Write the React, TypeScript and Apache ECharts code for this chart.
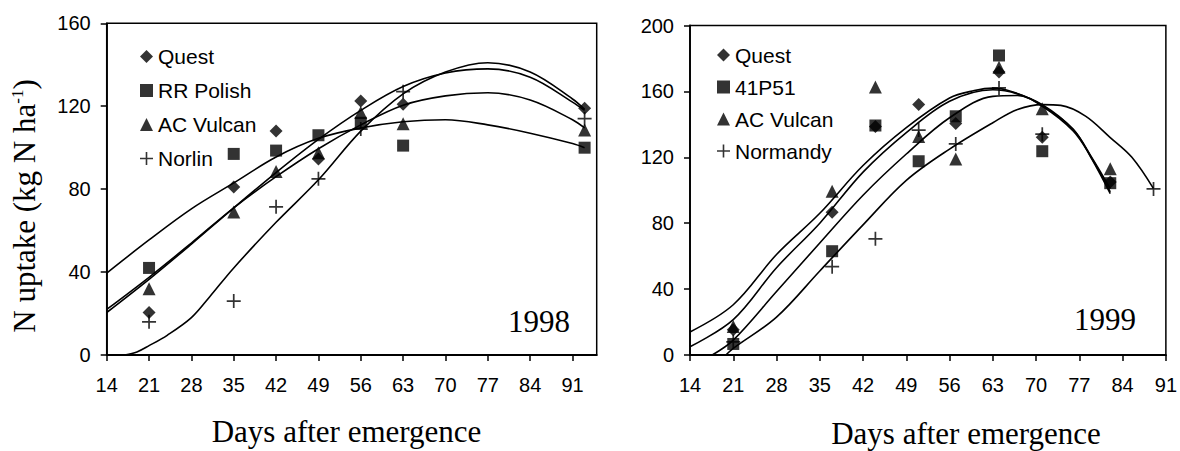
import React, { useEffect, useRef } from "react";
import * as echarts from "echarts";

// ---------- tick labels ----------
const xTicks = [14, 21, 28, 35, 42, 49, 56, 63, 70, 77, 84, 91];

// ---------- 1998 observations ----------
const days1998 = [21, 35, 42, 49, 56, 63, 93];
const quest1998 = [20.5, 81, 108, 94.5, 122.5, 121, 119];
const polish1998 = [42, 97, 98.6, 106, 112, 101, 100];
const vulcan1998 = [32, 69, 88.5, 97.5, 117, 111.5, 108.5];
const norlin1998 = [16, 26, 71.5, 85, 109, 127, 114];

// ---------- 1998 fitted curves [day, value] ----------
const fitQuest1998: [number, number][] = [[14, 20.5], [21, 36.5], [28, 53.5], [35, 71], [42, 88], [49, 104], [56, 118], [63, 129.5], [70, 136], [77, 138], [84, 134], [91, 122], [93, 118]];
const fitPolish1998: [number, number][] = [[14, 39.5], [21, 55.5], [28, 70.5], [35, 83], [42, 95.5], [49, 104.5], [56, 109.5], [63, 112.5], [70, 113.5], [77, 111], [84, 107], [91, 102], [93, 100]];
const fitVulcan1998: [number, number][] = [[14, 22], [21, 37.5], [28, 54], [35, 71], [42, 86], [49, 99.5], [56, 111], [63, 120.5], [70, 125], [77, 126.5], [84, 123], [91, 113.5], [93, 109.5]];
const fitNorlin1998: [number, number][] = [[17, 0], [19, 1.5], [21, 4.5], [24, 9.5], [28, 18], [31, 28], [35, 42], [42, 64], [49, 84.5], [56, 108], [63, 126], [70, 136.5], [77, 141], [84, 136.5], [91, 123.5], [93, 118.5]];

// ---------- 1999 observations ----------
const days1999 = [21, 37, 44, 51, 57, 64, 71, 82];
const quest1999 = [15.3, 86.6, 138.7, 152, 140.5, 171.7, 132.2, 105];
const p41P51_1999 = [6.7, 63, 139.3, 117.6, 144.9, 181.8, 123.7, 104.3];
const vulcan1999 = [17.3, 99.4, 162.6, 132.6, 119, 174.7, 149.4, 113];
const normandyDays1999 = [21, 37, 44, 51, 57, 64, 71, 89];
const normandy1999 = [8, 53.6, 70.5, 136.5, 128.1, 162.1, 134, 100.8];

// ---------- 1999 fitted curves [day, value] ----------
const fitVulcan1999: [number, number][] = [[14, 14], [21, 30.5], [28, 61], [35, 86], [42, 115], [49, 138], [56, 156], [60, 160.5], [63, 162], [66, 160], [71, 152], [76, 137], [79, 120], [82, 101]];
const fitQuest1999: [number, number][] = [[14, 5], [21, 21.5], [28, 53], [35, 80], [42, 111], [49, 135], [56, 154], [63, 161], [67, 158.5], [71, 151.5], [76, 137], [79, 119], [82, 98]];
const fit41P51_1999: [number, number][] = [[17.6, 0], [21, 9], [28, 38.5], [35, 68], [42, 97], [49, 122], [56, 144], [63, 157], [67, 157.5], [71, 151], [76, 136], [79, 119.5], [82, 99]];
const fitNormandy1999: [number, number][] = [[19.8, 0], [21, 4], [28, 23], [35, 51], [42, 79], [49, 106], [56, 125], [63, 141], [67, 149], [71, 152], [74, 151.5], [78, 145], [82, 132], [85.5, 120], [89, 101]];

const PLUS = "path://M5.7,0H7.3V5.7H13V7.3H7.3V13H5.7V7.3H0V5.7H5.7Z";
const SANS = "Liberation Sans, Arial, sans-serif";
const SERIF = "Liberation Serif, Times New Roman, serif";

const zip = (xs: number[], ys: number[]) => xs.map((x, i) => [x, ys[i]]);

function fitLine(name: string, data: [number, number][], idx: number) {
  return {
    type: "line",
    name,
    xAxisIndex: idx,
    yAxisIndex: idx,
    data,
    symbol: "none",
    showSymbol: false,
    smooth: 0.35,
    silent: true,
    lineStyle: { color: "#000", width: 1.6 },
    z: 2,
  };
}

function points(name: string, data: number[][], idx: number, symbol: string, size: number) {
  return {
    type: "scatter",
    name,
    xAxisIndex: idx,
    yAxisIndex: idx,
    data,
    symbol,
    symbolSize: size,
    itemStyle: { color: "#000" },
    z: 3,
  };
}

function xAxis(idx: number, max: number) {
  return {
    type: "value",
    gridIndex: idx,
    min: 14,
    max,
    interval: 7,
    axisLine: { show: true, onZero: false, lineStyle: { color: "#000", width: 1.8 } },
    axisTick: { show: true, inside: false, length: 6, lineStyle: { color: "#000", width: 1.5 }, customValues: xTicks },
    axisLabel: { customValues: xTicks, fontSize: 20, fontFamily: SANS, color: "#000", margin: 20 },
    splitLine: { show: false },
  };
}

function yAxis(idx: number, max: number) {
  return {
    type: "value",
    gridIndex: idx,
    min: 0,
    max,
    interval: 40,
    axisLine: { show: true, onZero: false, lineStyle: { color: "#000", width: 1.8 } },
    axisTick: { show: true, inside: false, length: 6, lineStyle: { color: "#000", width: 1.5 } },
    axisLabel: { fontSize: 20, fontFamily: SANS, color: "#000", margin: 16 },
    splitLine: { show: false },
  };
}

function legend(left: number, top: number, gap: number, names: string[]) {
  const icons = ["diamond", "rect", "triangle", PLUS];
  return {
    orient: "vertical",
    left,
    top,
    itemGap: gap,
    itemWidth: 13,
    itemHeight: 13,
    selectedMode: false,
    data: names.map((n, i) => ({ name: n, icon: icons[i] })),
    textStyle: { fontSize: 21, fontFamily: SANS, color: "#000" },
  };
}

export default function App() {
  const ref = useRef<HTMLDivElement>(null);
  useEffect(() => {
    if (!ref.current) return;
    const chart = echarts.init(ref.current, null, { renderer: "svg" });
    chart.setOption({
      animation: false,
      backgroundColor: "#fff",
      grid: [
        { left: 106.7, top: 23.3, width: 490, height: 331.7, show: true, borderColor: "#000", borderWidth: 1.5 },
        { left: 690, top: 25.5, width: 479, height: 329.5, show: true, borderColor: "#000", borderWidth: 1.5 },
      ],
      xAxis: [xAxis(0, 95), xAxis(1, 91)],
      yAxis: [yAxis(0, 160), yAxis(1, 200)],
      legend: [
        legend(135, 41, 13, ["Quest", "RR Polish", "AC Vulcan", "Norlin"]),
        legend(712, 39.5, 11, ["Quest", "41P51", "AC Vulcan", "Normandy"]),
      ],
      graphic: [
        {
          type: "text",
          x: 24,
          y: 206,
          rotation: Math.PI / 2,
          style: {
            text: "N uptake (kg N ha{sup|-1})",
            fontSize: 31,
            fontFamily: SERIF,
            fill: "#000",
            align: "center",
            verticalAlign: "middle",
            rich: { sup: { fontSize: 17, fontFamily: SERIF, verticalAlign: "top", fill: "#000" } },
          },
        },
        { type: "text", x: 346.5, y: 431, style: { text: "Days after emergence", fontSize: 31, fontFamily: SERIF, fill: "#000", align: "center", verticalAlign: "middle" } },
        { type: "text", x: 966, y: 433, style: { text: "Days after emergence", fontSize: 31, fontFamily: SERIF, fill: "#000", align: "center", verticalAlign: "middle" } },
        { type: "text", x: 539, y: 321, style: { text: "1998", fontSize: 31, fontFamily: SERIF, fill: "#000", align: "center", verticalAlign: "middle" } },
        { type: "text", x: 1105, y: 319, style: { text: "1999", fontSize: 31, fontFamily: SERIF, fill: "#000", align: "center", verticalAlign: "middle" } },
      ],
      series: [
        fitLine("fit Quest 1998", fitQuest1998, 0),
        fitLine("fit RR Polish 1998", fitPolish1998, 0),
        fitLine("fit AC Vulcan 1998", fitVulcan1998, 0),
        fitLine("fit Norlin 1998", fitNorlin1998, 0),
        points("Quest", zip(days1998, quest1998), 0, "diamond", 13),
        points("RR Polish", zip(days1998, polish1998), 0, "rect", 12),
        points("AC Vulcan", zip(days1998, vulcan1998), 0, "triangle", 13),
        points("Norlin", zip(days1998, norlin1998), 0, PLUS, 14),
        fitLine("fit Quest 1999", fitQuest1999, 1),
        fitLine("fit 41P51 1999", fit41P51_1999, 1),
        fitLine("fit AC Vulcan 1999", fitVulcan1999, 1),
        fitLine("fit Normandy 1999", fitNormandy1999, 1),
        points("Quest", zip(days1999, quest1999), 1, "diamond", 13),
        points("41P51", zip(days1999, p41P51_1999), 1, "rect", 12),
        points("AC Vulcan", zip(days1999, vulcan1999), 1, "triangle", 13),
        points("Normandy", zip(normandyDays1999, normandy1999), 1, PLUS, 14),
      ],
    });
    return () => chart.dispose();
  }, []);
  return <div ref={ref} style={{ position: "fixed", left: 0, top: 0, width: 1180, height: 451 }} />;
}
